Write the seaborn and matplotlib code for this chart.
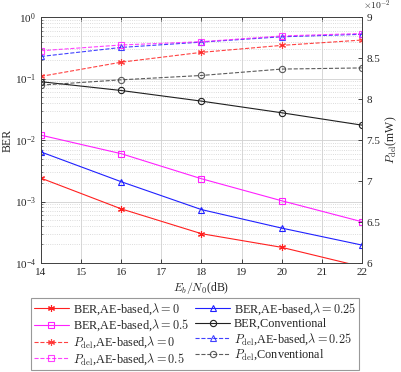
import pandas as pd
import seaborn as sns
import matplotlib.pyplot as plt
from matplotlib.ticker import FixedLocator, FuncFormatter, LogLocator, NullFormatter

snr_db = [14, 16, 18, 20, 22]

# BER (left axis, log scale)
ber_ae_0 = [2.4e-3, 7.6e-4, 3.0e-4, 1.8e-4, 8.7e-5]
ber_ae_025 = [6.4e-3, 2.1e-3, 7.4e-4, 3.7e-4, 1.96e-4]
ber_ae_05 = [1.2e-2, 6.0e-3, 2.35e-3, 1.03e-3, 4.7e-4]
ber_conv = [0.089, 0.064, 0.043, 0.0278, 0.0175]

# delivered power in mW (right axis)
pdel_ae_0 = [0.08277, 0.0845, 0.0857, 0.08655, 0.0872]
pdel_ae_025 = [0.0852, 0.0863, 0.08695, 0.0876, 0.0879]
pdel_ae_05 = [0.0859, 0.0866, 0.0870, 0.0877, 0.0880]
pdel_conv = [0.0817, 0.08235, 0.08288, 0.08366, 0.0838]

series = [
    # label, values, color, marker, axis, dashed
    (r"BER,AE-based,$\lambda=0$", ber_ae_0, "#ff2020", (6, 2, 0), "ber", False),
    (r"BER,AE-based,$\lambda=0.25$", ber_ae_025, "#2020ff", "^", "ber", False),
    (r"BER,AE-based,$\lambda=0.5$", ber_ae_05, "#ff20ff", "s", "ber", False),
    (r"BER,Conventional", ber_conv, "#202020", "o", "ber", False),
    (r"$P_{\rm del}$,AE-based,$\lambda=0$", pdel_ae_0, "#ff2020", (6, 2, 0), "pdel", True),
    (r"$P_{\rm del}$,AE-based,$\lambda=0.25$", pdel_ae_025, "#2020ff", "^", "pdel", True),
    (r"$P_{\rm del}$,AE-based,$\lambda=0.5$", pdel_ae_05, "#ff20ff", "s", "pdel", True),
    (r"$P_{\rm del}$,Conventional", pdel_conv, "#404040", "o", "pdel", True),
]

sns.set_theme(style="white")
plt.rcParams["font.family"] = ["Liberation Serif", "DejaVu Serif"]
plt.rcParams["mathtext.fontset"] = "cm"
plt.rcParams["xtick.direction"] = "in"
plt.rcParams["ytick.direction"] = "in"

fig = plt.figure(figsize=(4.02, 3.72), dpi=100)
ax = fig.add_axes([0.102, 0.293, 0.798, 0.661])
ax2 = ax.twinx()

handles = []
for label, vals, color, marker, axis, dashed in series:
    df = pd.DataFrame({"snr": snr_db, "val": vals})
    target = ax if axis == "ber" else ax2
    sns.lineplot(
        data=df, x="snr", y="val", ax=target,
        color=color, marker=marker, markersize=5 if marker == (6, 2, 0) else 4.5,
        markerfacecolor="none", markeredgecolor=color, markeredgewidth=0.8,
        linewidth=0.8, linestyle="--" if dashed else "-",
        alpha=0.85 if dashed else 1.0, label=label, legend=False,
    )
    handles.append(target.get_lines()[-1])

ax.set_yscale("log")
ax.set_xlim(14, 22)
ax.set_ylim(1e-4, 1)
ax2.set_ylim(0.06, 0.09)

ax.set_xticks(range(14, 23))
ax.yaxis.set_major_locator(LogLocator(base=10, numticks=10))
ax.yaxis.set_minor_locator(LogLocator(base=10, subs=range(2, 10), numticks=10))
ax.yaxis.set_minor_formatter(NullFormatter())
ax.grid(True, which="major", color="#d0d0d0", linewidth=0.6)
ax.grid(True, which="minor", axis="y", color="#d0d0d0", linestyle=":", linewidth=0.6)

ax2.yaxis.set_major_locator(FixedLocator([0.06, 0.065, 0.07, 0.075, 0.08, 0.085, 0.09]))
ax2.yaxis.set_major_formatter(FuncFormatter(lambda v, p: f"{v * 100:g}"))
ax2.text(1.003, 1.02, r"$\times10^{-2}$", transform=ax.transAxes, fontsize=7,
         ha="left", va="bottom")

for a in (ax, ax2):
    a.tick_params(labelsize=8, length=3, width=0.6, which="major")
    a.tick_params(length=1.5, width=0.4, which="minor")
    for s in a.spines.values():
        s.set_color("#404040")
        s.set_linewidth(0.6)
ax.tick_params(axis="y", which="both", left=True)
ax.tick_params(axis="x", bottom=True, top=True)
ax2.tick_params(axis="y", right=True)

ax.set_xlabel(r"$E_b/N_0$(dB)", fontsize=8.5, labelpad=2)
ax.set_ylabel("BER", fontsize=8.5, labelpad=1)
ax2.set_ylabel(r"$P_{\rm del}$(mW)", fontsize=8.5, labelpad=2)

# legend filled row by row
order = [0, 2, 4, 6, 1, 3, 5, 7]
leg = fig.legend(
    [handles[i] for i in order], [series[i][0] for i in order],
    ncol=2, loc="upper center", bbox_to_anchor=(195 / 402, 1 - 298 / 372),
    fontsize=8.8, frameon=True, fancybox=False, handlelength=2.9,
    columnspacing=0.5, handletextpad=0.3, labelspacing=0.1, borderpad=0.25,
    borderaxespad=0.0,
)
leg.get_frame().set_edgecolor("#808080")
leg.get_frame().set_linewidth(0.8)

fig.savefig("out.png", dpi=100)
